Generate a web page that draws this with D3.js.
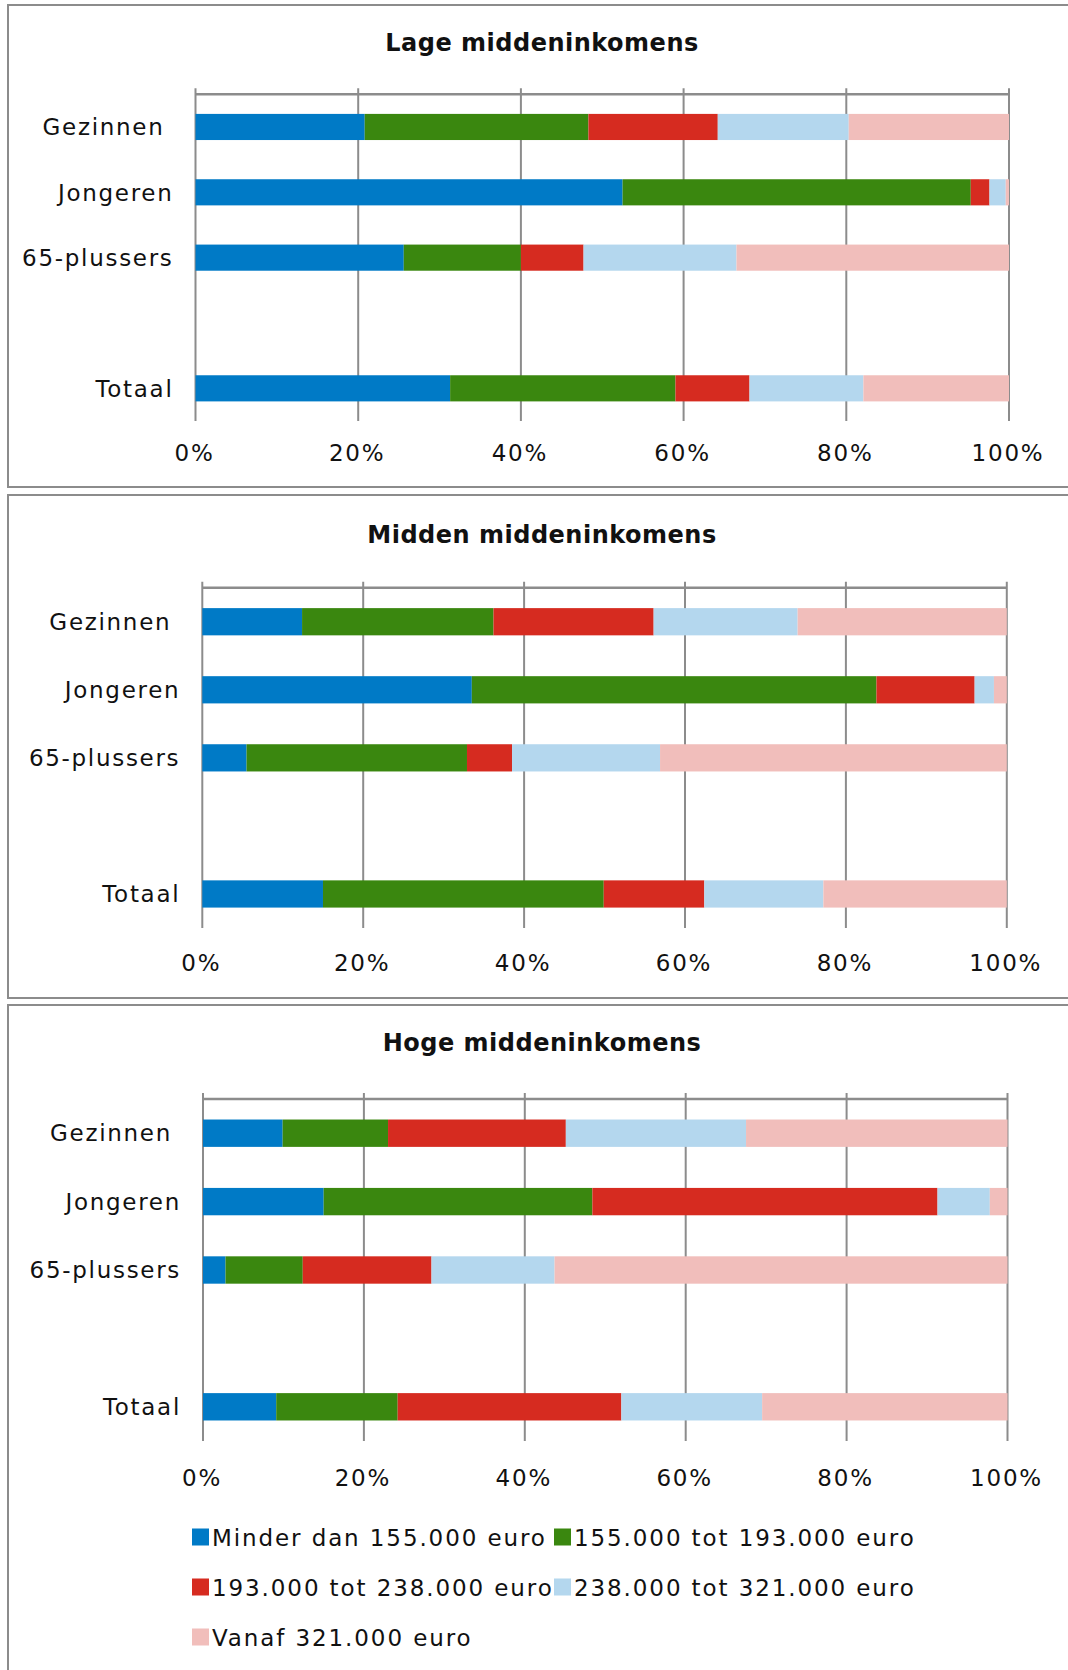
<!DOCTYPE html>
<html>
<head>
<meta charset="utf-8">
<script src="https://cdn.jsdelivr.net/npm/d3@7"></script>
<style>
  html, body { margin: 0; padding: 0; background: #fff; }
  svg { display: block; }
  text { font-family: "DejaVu Sans", Verdana, sans-serif; fill: #111; white-space: pre; }
</style>
</head>
<body>
<svg id="chart" width="1068" height="1670"></svg>
<script>
// ---- Data ----
const categories = ["Gezinnen ", "Jongeren", "65-plussers", "Totaal"];
const seriesNames = ["Minder dan 155.000 euro", "155.000 tot 193.000 euro",
  "193.000 tot 238.000 euro", "238.000 tot 321.000 euro", "Vanaf 321.000 euro"];
const seriesColors = ["#007ac6", "#3a870f", "#d62b20", "#b4d7ee", "#f1bebb"];
const tickValues = [0, 20, 40, 60, 80, 100];
const panelTitles = ["Lage middeninkomens", "Midden middeninkomens", "Hoge middeninkomens"];

// Lage middeninkomens (per category: Gezinnen, Jongeren, 65-plussers, Totaal)
const lageMinder155 = [20.8, 52.5, 25.6, 31.3];
const lage155tot193 = [27.5, 42.8, 14.4, 27.7];
const lage193tot238 = [15.9, 2.3, 7.7, 9.1];
const lage238tot321 = [16.1, 2.0, 18.8, 14.0];
const lageVanaf321 = [19.7, 0.4, 33.5, 17.9];

// Midden middeninkomens
const middenMinder155 = [12.4, 33.5, 5.5, 15.0];
const midden155tot193 = [23.8, 50.3, 27.4, 34.9];
const midden193tot238 = [19.9, 12.2, 5.6, 12.5];
const midden238tot321 = [17.9, 2.4, 18.4, 14.8];
const middenVanaf321 = [26.0, 1.6, 43.1, 22.8];

// Hoge middeninkomens
const hogeMinder155 = [9.9, 15.0, 2.8, 9.1];
const hoge155tot193 = [13.1, 33.4, 9.6, 15.1];
const hoge193tot238 = [22.1, 42.9, 16.0, 27.8];
const hoge238tot321 = [22.4, 6.5, 15.3, 17.5];
const hogeVanaf321 = [32.5, 2.2, 56.3, 30.5];

const panelSeries = [
  [lageMinder155, lage155tot193, lage193tot238, lage238tot321, lageVanaf321],
  [middenMinder155, midden155tot193, midden193tot238, midden238tot321, middenVanaf321],
  [hogeMinder155, hoge155tot193, hoge193tot238, hoge238tot321, hogeVanaf321]
];

// ---- Layout ----
const layouts = [
  { boxTop: 5,   boxBottom: 487,  titleY: 51,   x0: 195.5, x1: 1009,   top: 94.3,  bottom: 421,  tickY: 461 },
  { boxTop: 495, boxBottom: 998,  titleY: 543,  x0: 202.3, x1: 1006.8, top: 587.7, bottom: 928,  tickY: 971 },
  { boxTop: 1005, boxBottom: 1700, titleY: 1051, x0: 203,  x1: 1007.5, top: 1099,  bottom: 1441, tickY: 1486 }
];

const svg = d3.select("#chart");
const gray = "#8c8c8c";
const slots = [categories[0], categories[1], categories[2], "__gap__", categories[3]];

layouts.forEach((L, pi) => {
  const g = svg.append("g");
  g.append("rect")
    .attr("x", 8).attr("y", L.boxTop)
    .attr("width", 1068).attr("height", L.boxBottom - L.boxTop)
    .attr("fill", "none").attr("stroke", gray).attr("stroke-width", 2);

  g.append("text")
    .attr("x", 542).attr("y", L.titleY)
    .attr("text-anchor", "middle")
    .style("font-weight", "bold").style("font-size", "24px").style("letter-spacing", "0.5px")
    .text(panelTitles[pi]);

  const x = d3.scaleLinear().domain([0, 100]).range([L.x0, L.x1]);
  const y = d3.scaleBand().domain(slots).range([L.top, L.bottom]).paddingInner(0.6).paddingOuter(0.3);

  // gridlines
  g.selectAll("line.grid").data(tickValues).join("line")
    .attr("x1", d => x(d)).attr("x2", d => x(d))
    .attr("y1", L.top - 6).attr("y2", L.bottom)
    .attr("stroke", gray).attr("stroke-width", 2);
  // top line
  g.append("line")
    .attr("x1", x(0)).attr("x2", x(100))
    .attr("y1", L.top).attr("y2", L.top)
    .attr("stroke", gray).attr("stroke-width", 2.5);

  // stacked bars
  const series = panelSeries[pi];
  const rows = categories.map((c, ci) => {
    const r = { cat: c };
    seriesNames.forEach((s, si) => r[s] = series[si][ci]);
    return r;
  });
  const stacked = d3.stack().keys(seriesNames)(rows);
  stacked.forEach((layer, si) => {
    g.append("g").selectAll("rect").data(layer).join("rect")
      .attr("x", d => x(d[0]))
      .attr("width", d => Math.max(0, x(Math.min(100, d[1])) - x(d[0])))
      .attr("y", d => y(d.data.cat))
      .attr("height", y.bandwidth())
      .attr("fill", seriesColors[si]);
  });

  // category labels
  g.selectAll("text.cat").data(categories).join("text")
    .attr("x", L.x0 - 22)
    .attr("y", d => y(d) + y.bandwidth() / 2)
    .attr("dy", "0.36em")
    .attr("text-anchor", "end")
    .style("font-size", "23px").style("letter-spacing", "1.7px")
    .text(d => d);

  // tick labels
  g.selectAll("text.tick").data(tickValues).join("text")
    .attr("x", d => x(d) - 1)
    .attr("y", L.tickY)
    .attr("text-anchor", "middle")
    .style("font-size", "23px").style("letter-spacing", "1.8px")
    .text(d => d + "%");
});

// ---- Legend ----
const legendPos = [
  { x: 192, y: 1537 }, { x: 554, y: 1537 },
  { x: 192, y: 1587 }, { x: 554, y: 1587 },
  { x: 192, y: 1637 }
];
const lg = svg.append("g");
seriesNames.forEach((s, i) => {
  const p = legendPos[i];
  lg.append("rect").attr("x", p.x).attr("y", p.y - 8.5).attr("width", 17).attr("height", 17)
    .attr("fill", seriesColors[i]);
  lg.append("text").attr("x", p.x + 20).attr("y", p.y + 8.5)
    .style("font-size", "23px").style("letter-spacing", "1.9px")
    .text(s);
});
</script>
</body>
</html>
